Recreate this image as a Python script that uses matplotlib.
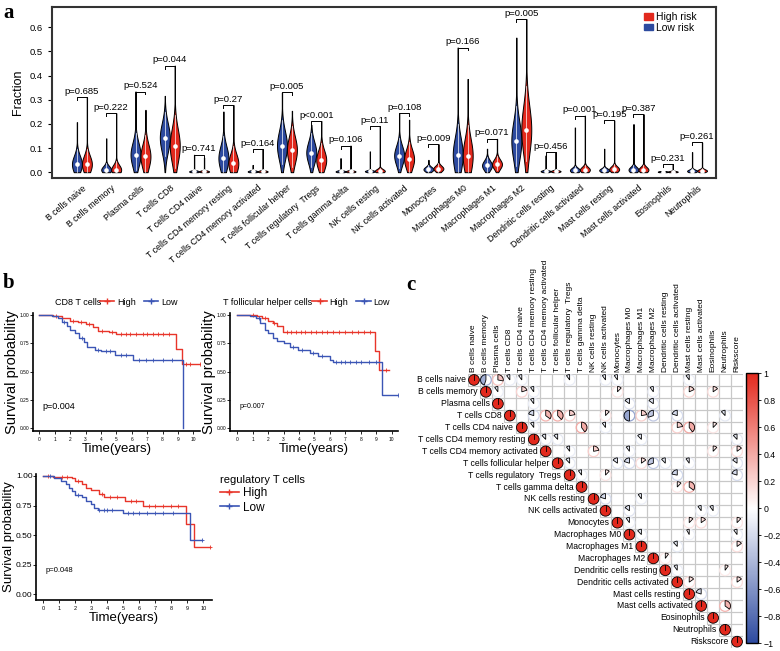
import numpy as np
import matplotlib.pyplot as plt
from matplotlib.patches import Patch, Rectangle, Circle, Wedge
from matplotlib.lines import Line2D
from matplotlib.colors import LinearSegmentedColormap, Normalize
import matplotlib as mpl

plt.rcParams['font.family'] = ['Liberation Sans', 'DejaVu Sans']

# DATA - panel a (violins)
cell_types = ['B cells naive', 'B cells memory', 'Plasma cells', 'T cells CD8', 'T cells CD4 naive',
              'T cells CD4 memory resting', 'T cells CD4 memory activated', 'T cells follicular helper',
              'T cells regulatory  Tregs', 'T cells gamma delta', 'NK cells resting', 'NK cells activated',
              'Monocytes', 'Macrophages M0', 'Macrophages M1', 'Macrophages M2', 'Dendritic cells resting',
              'Dendritic cells activated', 'Mast cells resting', 'Mast cells activated', 'Eosinophils',
              'Neutrophils']
low_max = [0.207, 0.14, 0.334, 0.316, 0.072, 0.251, 0.03, 0.33, 0.196, 0.058, 0.086, 0.244,
           0.051, 0.516, 0.097, 0.557, 0.069, 0.185, 0.097, 0.199, 0.005, 0.083]
low_med = [0.033, 0.01, 0.072, 0.143, 0.003, 0.058, 0.003, 0.11, 0.081, 0.003, 0.004, 0.069,
           0.012, 0.072, 0.028, 0.13, 0.004, 0.008, 0.008, 0.01, 0.002, 0.005]
low_sd = [0.035, 0.015, 0.05, 0.06, 0.004, 0.05, 0.004, 0.06, 0.045, 0.004, 0.004, 0.04,
          0.01, 0.07, 0.02, 0.08, 0.004, 0.01, 0.008, 0.012, 0.003, 0.006]
high_max = [0.31, 0.244, 0.258, 0.441, 0.06, 0.278, 0.095, 0.254, 0.212, 0.11, 0.19, 0.217,
            0.116, 0.386, 0.138, 0.634, 0.083, 0.234, 0.214, 0.24, 0.034, 0.123]
high_med = [0.033, 0.01, 0.065, 0.11, 0.003, 0.036, 0.003, 0.092, 0.05, 0.003, 0.005, 0.054,
            0.015, 0.068, 0.033, 0.175, 0.004, 0.01, 0.012, 0.01, 0.002, 0.006]
high_sd = [0.035, 0.02, 0.05, 0.07, 0.004, 0.04, 0.004, 0.055, 0.04, 0.004, 0.008, 0.04,
           0.012, 0.07, 0.02, 0.1, 0.004, 0.012, 0.012, 0.012, 0.003, 0.006]
p_labels = ['p=0.685', 'p=0.222', 'p=0.524', 'p=0.044', 'p=0.741', 'p=0.27', 'p=0.164', 'p=0.005',
            'p<0.001', 'p=0.106', 'p=0.11', 'p=0.108', 'p=0.009', 'p=0.166', 'p=0.071', 'p=0.005',
            'p=0.456', 'p=0.001', 'p=0.195', 'p=0.387', 'p=0.231', 'p=0.261']

# DATA - panel b (Kaplan-Meier steps)
km1_high_t = [0, 0.9, 1.5, 2.0, 2.5, 3.0, 3.5, 3.8, 4.5, 5.0, 8.9, 9.25]
km1_high_s = [1.0, 0.99, 0.97, 0.95, 0.94, 0.92, 0.89, 0.86, 0.85, 0.83, 0.70, 0.565]
km1_high_end = 10.4
km1_high_cens = [1.1, 2.2, 2.7, 3.2, 4.1, 4.7, 5.3, 5.6, 5.9, 6.3, 6.7, 7.0, 7.4, 7.7, 8.0, 8.4, 9.5, 9.8, 10.4]
km1_low_t = [0, 0.8, 1.2, 1.5, 1.8, 2.0, 2.3, 2.6, 2.9, 3.1, 3.6, 4.0, 4.9, 6.1, 9.3]
km1_low_s = [1.0, 0.99, 0.97, 0.94, 0.90, 0.87, 0.84, 0.80, 0.76, 0.72, 0.69, 0.68, 0.65, 0.60, 0.0]
km1_low_end = 9.3
km1_low_cens = [1.6, 2.8, 3.8, 4.3, 4.6, 5.3, 5.6, 6.5, 6.9, 7.4, 8.0, 8.6]

km2_high_t = [0, 1.3, 1.6, 2.0, 2.3, 2.6, 2.95, 8.9, 9.15]
km2_high_s = [1.0, 0.99, 0.97, 0.95, 0.93, 0.90, 0.85, 0.68, 0.515]
km2_high_end = 9.8
km2_high_cens = [1.0, 1.8, 2.4, 3.2, 3.5, 3.8, 4.1, 4.4, 4.8, 5.1, 5.5, 5.8, 6.2, 6.6, 7.0, 7.4, 7.8, 8.2, 8.6, 9.6]
km2_low_t = [0, 0.8, 1.2, 1.5, 1.8, 2.0, 2.3, 2.6, 3.0, 3.4, 3.9, 4.7, 5.2, 6.0, 6.2, 9.35]
km2_low_s = [1.0, 0.99, 0.97, 0.93, 0.87, 0.84, 0.80, 0.77, 0.75, 0.72, 0.69, 0.665, 0.64, 0.60, 0.58, 0.29]
km2_low_end = 10.4
km2_low_cens = [1.4, 3.6, 4.2, 4.9, 5.5, 6.4, 6.7, 7.0, 7.3, 7.7, 8.0, 8.5, 9.0, 10.4]

km3_high_t = [0, 0.6, 1.8, 2.0, 2.4, 2.7, 3.0, 3.5, 3.8, 5.1, 6.2, 8.9, 9.4]
km3_high_s = [1.0, 0.99, 0.98, 0.96, 0.93, 0.90, 0.88, 0.85, 0.82, 0.79, 0.75, 0.595, 0.40]
km3_high_end = 10.4
km3_high_cens = [0.3, 1.2, 1.5, 2.2, 3.7, 4.2, 4.6, 5.5, 5.8, 6.6, 7.0, 7.5, 8.0, 8.4, 10.4]
km3_low_t = [0, 0.7, 1.1, 1.4, 1.6, 1.8, 2.0, 2.4, 2.7, 3.0, 3.2, 3.4, 5.0, 9.15]
km3_low_s = [1.0, 0.98, 0.96, 0.93, 0.90, 0.87, 0.84, 0.82, 0.79, 0.76, 0.73, 0.71, 0.685, 0.455]
km3_low_end = 9.9
km3_low_cens = [0.4, 2.2, 3.5, 3.8, 4.0, 4.3, 5.3, 5.6, 6.0, 6.5, 7.0, 7.5, 8.1, 9.9]

# DATA - panel c (significant correlations, upper triangle)
corr_labels = cell_types + ['Riskscore']
corr_rows = [0, 0, 0, 0, 0, 0, 0, 0, 1, 1, 1, 1, 1, 1, 1, 2, 2, 2,
             3, 3, 3, 3, 3, 3, 3, 3, 3, 3, 4, 4, 4, 4, 4, 4, 5, 5, 5, 5,
             6, 6, 6, 6, 6, 7, 7, 7, 7, 7, 7, 7, 7, 8, 8, 8, 8, 9, 9, 10, 10,
             11, 11, 11, 12, 12, 12, 12, 13, 13, 13, 14, 14, 15, 16, 16, 17, 17, 18, 19]
corr_cols = [1, 2, 3, 4, 8, 11, 12, 18, 2, 4, 5, 12, 15, 18, 20, 5, 13, 15,
             5, 6, 7, 8, 11, 13, 14, 15, 17, 21, 5, 9, 11, 17, 18, 20, 6, 7, 14, 22,
             8, 10, 13, 20, 22, 8, 12, 13, 14, 15, 16, 18, 22, 9, 11, 17, 22, 17, 18, 11, 14,
             13, 19, 20, 13, 18, 19, 22, 14, 18, 22, 17, 22, 16, 17, 21, 18, 22, 19, 21]
corr_vals = [-0.45, 0.28, -0.1, -0.1, -0.1, -0.1, -0.1, -0.1, -0.1, 0.2, -0.1, 0.12, -0.1, 0.18, 0.15,
             -0.1, -0.15, -0.15,
             -0.2, 0.35, 0.38, 0.22, 0.12, -0.5, 0.22, -0.3, -0.2, -0.12,
             -0.1, 0.4, -0.1, 0.22, 0.4, 0.12, -0.12, -0.12, -0.12, -0.12,
             -0.1, 0.22, -0.1, 0.12, 0.15, -0.12, -0.15, -0.2, 0.15, -0.3, -0.12, -0.1, -0.15,
             -0.1, 0.12, -0.22, -0.2, 0.12, 0.35, -0.2, -0.1,
             -0.15, -0.1, -0.1, -0.1, 0.12, 0.15, 0.12, -0.12, -0.08, -0.1, -0.12, 0.15, 0.1,
             -0.1, 0.1, 0.15, 0.15, -0.2, 0.35]

RED = '#e2291d'
BLUE = '#2d4a9f'
KM_RED = '#e8352a'
KM_BLUE = '#3b55b5'

fig = plt.figure(figsize=(7.8, 6.51), dpi=100)

# PANEL A
axa = fig.add_axes([0.0667, 0.7266, 0.851, 0.2627])
HW = 0.17
OFF = 0.17


def violin(ax, x, vmax, med, sd, color):
    y = np.linspace(0, vmax, 300)
    w = HW * np.exp(-0.5 * ((y - med) / sd) ** 2)
    w = np.maximum(w, 0.006)
    ax.fill_betweenx(y, x - w, x + w, facecolor=color, edgecolor='black', lw=0.7, zorder=2)
    ax.plot([x, x], [max(0, med - 1.3 * sd), min(vmax, med + 1.8 * sd)], color='white', lw=0.5, zorder=3)
    ax.scatter([x], [med], s=11, c='white', zorder=4, linewidths=0)


for i in range(len(cell_types)):
    violin(axa, i - OFF, low_max[i], low_med[i], low_sd[i], BLUE)
    violin(axa, i + OFF, high_max[i], high_med[i], high_sd[i], RED)
    top = max(low_max[i], high_max[i])
    axa.plot([i - OFF, i - OFF, i + OFF, i + OFF], [top - 0.012, top, top, top - 0.012], color='black', lw=0.7)
    axa.text(i, top + 0.006, p_labels[i], ha='center', va='bottom', fontsize=6.8)

axa.set_xlim(-1.02, 21.64)
axa.set_ylim(-0.024, 0.684)
axa.set_yticks([0, 0.1, 0.2, 0.3, 0.4, 0.5, 0.6])
axa.set_yticklabels(['0.0', '0.1', '0.2', '0.3', '0.4', '0.5', '0.6'], fontsize=6.8)
axa.set_xticks(range(len(cell_types)))
axa.set_xticklabels(cell_types, rotation=40, ha='right', rotation_mode='anchor', fontsize=6.3)
axa.tick_params(axis='x', length=0, pad=4)
axa.tick_params(axis='y', length=3, width=0.8)
axa.set_ylabel('Fraction', fontsize=9, labelpad=4)
for sp in axa.spines.values():
    sp.set_color('#333333')
    sp.set_linewidth(1.5)
axa.legend(handles=[Patch(color=RED), Patch(color=BLUE)], labels=['High risk', 'Low risk'],
           loc='upper right', bbox_to_anchor=(0.985, 1.025), frameon=False, fontsize=7.5,
           handlelength=0.8, handleheight=0.6, handletextpad=0.3, labelspacing=0.05)


# PANEL B
def km_axes(rect, xlim, ylim, tick_fs_y, tick_fs_x, ylab_fs):
    ax = fig.add_axes(rect)
    ax.set_xlim(*xlim)
    ax.set_ylim(*ylim)
    ax.spines['top'].set_visible(False)
    ax.spines['right'].set_visible(False)
    ax.spines['left'].set_linewidth(1.2)
    ax.spines['bottom'].set_linewidth(1.2)
    ax.set_xticks(range(11))
    ax.set_yticks([0, 0.25, 0.5, 0.75, 1.0])
    ax.set_yticklabels(['0.00', '0.25', '0.50', '0.75', '1.00'], fontsize=tick_fs_y)
    ax.tick_params(axis='x', labelsize=tick_fs_x, length=2, width=0.6, pad=2)
    ax.tick_params(axis='y', length=2, width=0.6, pad=0.5)
    ax.set_xlabel('Time(years)', fontsize=9.5, labelpad=1)
    ax.set_ylabel('Survival probability', fontsize=ylab_fs, labelpad=0.5)
    return ax


def km_curve(ax, t, s, end, cens, color):
    tt = list(t) + [end]
    ss = list(s) + [s[-1]]
    ax.step(tt, ss, where='post', color=color, lw=1.0)
    idx = np.searchsorted(t, cens, side='right') - 1
    ax.plot(cens, np.array(s)[idx], '+', color=color, ms=3, mew=0.6)


ax1 = km_axes([0.0423, 0.3373, 0.2141, 0.1823], (-0.41, 10.43), (-0.03, 1.02), 3.5, 3.5, 10.5)
km_curve(ax1, km1_high_t, km1_high_s, km1_high_end, km1_high_cens, KM_RED)
km_curve(ax1, km1_low_t, km1_low_s, km1_low_end, km1_low_cens, KM_BLUE)
ax1.text(0.2, 0.19, 'p=0.004', fontsize=6.5, va='center')

ax2 = km_axes([0.2949, 0.3373, 0.2154, 0.1823], (-0.47, 10.41), (-0.03, 1.02), 3.5, 3.5, 10.5)
km_curve(ax2, km2_high_t, km2_high_s, km2_high_end, km2_high_cens, KM_RED)
km_curve(ax2, km2_low_t, km2_low_s, km2_low_end, km2_low_cens, KM_BLUE)
ax2.text(0.17, 0.19, 'p=0.007', fontsize=5, va='center')

ax3 = km_axes([0.0462, 0.0783, 0.2256, 0.1942], (-0.45, 10.54), (-0.048, 1.02), 6.0, 4, 9.5)
km_curve(ax3, km3_high_t, km3_high_s, km3_high_end, km3_high_cens, KM_RED)
km_curve(ax3, km3_low_t, km3_low_s, km3_low_end, km3_low_cens, KM_BLUE)
ax3.text(0.17, 0.2, 'p=0.048', fontsize=5.5, va='center')

km_handles = [Line2D([], [], color=KM_RED, lw=1.2, marker='+', ms=5, mew=1),
              Line2D([], [], color=KM_BLUE, lw=1.2, marker='+', ms=5, mew=1)]
for ax, name, x0 in [(ax1, 'CD8 T cells', 0.13), (ax2, 'T follicular helper cells', -0.04)]:
    ax.text(x0, 1.09, name, transform=ax.transAxes, fontsize=6.5, va='center', ha='left')
    ax.legend(handles=km_handles, labels=['High', 'Low'], ncol=2, frameon=False, fontsize=6.5,
              loc='center left', bbox_to_anchor=(0.4 if x0 > 0 else 0.49, 1.09),
              handlelength=1.6, handletextpad=0.3, columnspacing=0.9, borderaxespad=0, borderpad=0)

fig.legend(handles=km_handles, labels=['High', 'Low'], title='regulatory T cells', frameon=False,
           fontsize=8.5, title_fontsize=8, loc='upper left', bbox_to_anchor=(0.268, 0.287),
           handlelength=1.6, handletextpad=0.4, labelspacing=0.2, alignment='left')

# PANEL C
cmap = LinearSegmentedColormap.from_list('corr', [BLUE, '#ffffff', RED])
norm = Normalize(-1, 1)
axc = fig.add_axes([0.6, 0.0052, 0.3526, 0.4203])
n = len(corr_labels)
axc.set_xlim(-0.5, n - 0.5)
axc.set_ylim(n - 0.5, -0.5)
axc.axis('off')
R = 0.45
for i in range(n):
    for j in range(i, n):
        axc.add_patch(Rectangle((j - 0.5, i - 0.5), 1, 1, fill=False, ec='#c8c8c8', lw=0.8))
    axc.add_patch(Circle((i, i), R, fc=cmap(norm(1.0)), ec='black', lw=0.6, zorder=3))
    axc.plot([i, i], [i, i - R], color='black', lw=0.6, zorder=4)
    axc.text(i - 0.7, i, corr_labels[i], ha='right', va='center', fontsize=6.2)
    axc.text(i, -0.7, corr_labels[i], ha='center', va='bottom', rotation=90, fontsize=6.0)

for r, c, v in zip(corr_rows, corr_cols, corr_vals):
    col = cmap(norm(v))
    axc.add_patch(Circle((c, r), R, fill=False, ec=col, lw=0.9, zorder=2))
    if v > 0:
        t1, t2 = 270, 270 + 360 * v
    else:
        t1, t2 = 270 + 360 * v, 270
    axc.add_patch(Wedge((c, r), R, t1, t2, fc=col, ec='black', lw=0.6, zorder=3))

cax = fig.add_axes([0.957, 0.012, 0.0145, 0.415])
cb = mpl.colorbar.ColorbarBase(cax, cmap=cmap, norm=norm)
cb_ticks = [-1, -0.8, -0.6, -0.4, -0.2, 0, 0.2, 0.4, 0.6, 0.8, 1]
cb.set_ticks(cb_ticks)
cb.set_ticklabels([('%g' % v).replace('-', '\u2212') for v in cb_ticks])
cb.ax.tick_params(labelsize=6.3, length=2, width=0.6, pad=2)
cb.outline.set_linewidth(1.0)

# panel letters
for x, y, s in [(0.004, 0.996, 'a'), (0.004, 0.58, 'b'), (0.521, 0.577, 'c')]:
    fig.text(x, y, s, fontsize=15, fontweight='bold', family='Liberation Serif', va='top')

fig.savefig('out.png', dpi=100)
